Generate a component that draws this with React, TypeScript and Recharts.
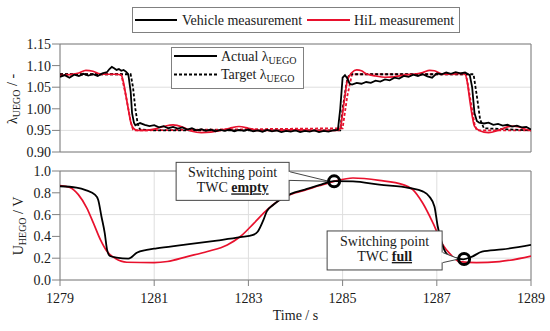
import React from "react";
import {
  LineChart,
  Line,
  XAxis,
  YAxis,
  CartesianGrid,
  ReferenceArea,
  ReferenceDot,
} from "recharts";

// ---------- data ----------
const timeTicks = [1279, 1281, 1283, 1285, 1287, 1289];
const lambdaTicks = [0.9, 0.95, 1.0, 1.05, 1.1, 1.15];
const voltTicks = [0, 0.2, 0.4, 0.6, 0.8, 1.0];

// Vehicle measurement, actual lambda (UEGO)
const vehicleLambdaActual: [number, number][] = [
  [1279.0, 1.074], [1279.1, 1.078], [1279.2, 1.072], [1279.3, 1.079], [1279.4, 1.076],
  [1279.5, 1.081], [1279.6, 1.077], [1279.7, 1.08], [1279.8, 1.076], [1279.9, 1.082],
  [1280.0, 1.085], [1280.05, 1.092], [1280.1, 1.097], [1280.15, 1.094], [1280.2, 1.09],
  [1280.25, 1.092], [1280.3, 1.088], [1280.35, 1.09], [1280.4, 1.086], [1280.45, 1.08],
  [1280.5, 1.04], [1280.53, 0.99], [1280.57, 0.968], [1280.6, 0.962], [1280.7, 0.967],
  [1280.8, 0.963], [1280.9, 0.96], [1281.0, 0.962], [1281.1, 0.957], [1281.2, 0.96],
  [1281.3, 0.955], [1281.4, 0.958], [1281.5, 0.954], [1281.6, 0.957], [1281.7, 0.952],
  [1281.8, 0.955], [1281.9, 0.95], [1282.0, 0.953], [1282.1, 0.949], [1282.2, 0.952],
  [1282.3, 0.948], [1282.4, 0.951], [1282.5, 0.949], [1282.6, 0.952], [1282.7, 0.948],
  [1282.8, 0.951], [1282.9, 0.949], [1283.0, 0.952], [1283.1, 0.948], [1283.2, 0.95],
  [1283.3, 0.947], [1283.4, 0.951], [1283.5, 0.948], [1283.6, 0.95], [1283.7, 0.946],
  [1283.8, 0.949], [1283.9, 0.947], [1284.0, 0.95], [1284.1, 0.946], [1284.2, 0.949],
  [1284.3, 0.947], [1284.4, 0.95], [1284.5, 0.946], [1284.6, 0.949], [1284.7, 0.947],
  [1284.8, 0.95], [1284.9, 0.951], [1284.95, 1.0], [1285.0, 1.072], [1285.05, 1.078],
  [1285.1, 1.07], [1285.15, 1.058], [1285.2, 1.056], [1285.3, 1.06], [1285.4, 1.058],
  [1285.5, 1.062], [1285.6, 1.06], [1285.7, 1.065], [1285.8, 1.063], [1285.9, 1.068],
  [1286.0, 1.066], [1286.1, 1.072], [1286.2, 1.07], [1286.3, 1.076], [1286.4, 1.074],
  [1286.5, 1.079], [1286.6, 1.076], [1286.7, 1.08], [1286.8, 1.075], [1286.9, 1.072],
  [1287.0, 1.082], [1287.1, 1.08], [1287.2, 1.084], [1287.3, 1.081], [1287.4, 1.085],
  [1287.5, 1.082], [1287.6, 1.084], [1287.7, 1.078], [1287.75, 1.05], [1287.8, 0.99],
  [1287.85, 0.972], [1287.9, 0.968], [1288.0, 0.966], [1288.1, 0.968], [1288.2, 0.963],
  [1288.3, 0.965], [1288.4, 0.961], [1288.5, 0.963], [1288.6, 0.959], [1288.7, 0.961],
  [1288.8, 0.957], [1288.9, 0.958], [1289.0, 0.952],
];

// Vehicle measurement, target lambda
const vehicleLambdaTarget: [number, number][] = [
  [1279.0, 1.08], [1280.5, 1.08], [1280.55, 1.05], [1280.6, 1.0], [1280.65, 0.965],
  [1280.7, 0.952], [1281.0, 0.95], [1284.95, 0.95], [1285.0, 1.0], [1285.1, 1.07],
  [1285.15, 1.08], [1287.78, 1.08], [1287.85, 1.03], [1287.92, 0.975], [1288.0, 0.955],
  [1289.0, 0.95],
];

// HiL measurement, actual lambda
const hilLambdaActual: [number, number][] = [
  [1279.0, 1.077], [1279.2, 1.079], [1279.4, 1.083], [1279.55, 1.089], [1279.7, 1.087],
  [1279.85, 1.081], [1280.0, 1.08], [1280.2, 1.08], [1280.3, 1.078], [1280.35, 1.06],
  [1280.4, 1.03], [1280.45, 1.0], [1280.5, 0.97], [1280.55, 0.956], [1280.65, 0.95],
  [1280.8, 0.95], [1281.0, 0.953], [1281.2, 0.959], [1281.4, 0.963], [1281.6, 0.958],
  [1281.8, 0.948], [1282.0, 0.945], [1282.2, 0.946], [1282.4, 0.95], [1282.6, 0.955],
  [1282.8, 0.959], [1283.0, 0.955], [1283.2, 0.95], [1283.5, 0.95], [1284.0, 0.951],
  [1284.5, 0.95], [1284.9, 0.95], [1284.95, 0.955], [1285.0, 0.99], [1285.05, 1.03],
  [1285.1, 1.065], [1285.2, 1.084], [1285.3, 1.09], [1285.4, 1.088], [1285.5, 1.081],
  [1285.7, 1.076], [1285.9, 1.073], [1286.1, 1.074], [1286.3, 1.078], [1286.5, 1.08],
  [1286.7, 1.084], [1286.85, 1.089], [1286.95, 1.088], [1287.1, 1.081], [1287.3, 1.08],
  [1287.5, 1.082], [1287.6, 1.08], [1287.65, 1.06], [1287.7, 1.02], [1287.75, 0.985],
  [1287.8, 0.96], [1287.9, 0.95], [1288.0, 0.946], [1288.1, 0.945], [1288.3, 0.95],
  [1288.5, 0.958], [1288.6, 0.96], [1288.75, 0.958], [1288.9, 0.952], [1289.0, 0.95],
];

// HiL measurement, target lambda
const hilLambdaTarget: [number, number][] = [
  [1279.0, 1.08], [1280.3, 1.08], [1280.4, 1.03], [1280.5, 0.97], [1280.55, 0.952],
  [1280.6, 0.95], [1285.0, 0.955], [1285.1, 1.03], [1285.2, 1.08], [1287.62, 1.08],
  [1287.7, 1.03], [1287.8, 0.965], [1287.85, 0.95], [1289.0, 0.95],
];

// Vehicle measurement, HEGO voltage
const vehicleHego: [number, number][] = [
  [1279.0, 0.86], [1279.35, 0.848], [1279.56, 0.822], [1279.74, 0.783], [1279.81, 0.737],
  [1279.88, 0.583], [1279.95, 0.43], [1280.0, 0.276], [1280.06, 0.22], [1280.2, 0.205],
  [1280.45, 0.196], [1280.52, 0.21], [1280.63, 0.25], [1280.84, 0.276], [1281.05, 0.291],
  [1281.62, 0.322], [1282.33, 0.362], [1282.83, 0.393], [1283.1, 0.414], [1283.2, 0.445],
  [1283.32, 0.552], [1283.39, 0.629], [1283.53, 0.69], [1283.67, 0.737], [1283.9, 0.79],
  [1284.2, 0.83], [1284.5, 0.87], [1284.82, 0.908], [1285.22, 0.905], [1285.78, 0.875],
  [1286.42, 0.844], [1286.7, 0.813], [1286.84, 0.767], [1286.95, 0.675], [1287.02, 0.491],
  [1287.09, 0.368], [1287.16, 0.276], [1287.23, 0.23], [1287.4, 0.2], [1287.56, 0.19],
  [1287.75, 0.215], [1287.96, 0.26], [1288.39, 0.28], [1289.0, 0.322],
];

// HiL measurement, HEGO voltage
const hilHego: [number, number][] = [
  [1279.0, 0.866], [1279.21, 0.848], [1279.39, 0.783], [1279.57, 0.66], [1279.71, 0.522],
  [1279.86, 0.368], [1280.0, 0.261], [1280.17, 0.2], [1280.42, 0.163], [1281.0, 0.16],
  [1281.28, 0.17], [1281.7, 0.215], [1282.13, 0.261], [1282.55, 0.322], [1282.83, 0.399],
  [1283.12, 0.522], [1283.4, 0.645], [1283.67, 0.737], [1284.0, 0.8], [1284.2, 0.825],
  [1284.5, 0.865], [1284.82, 0.905], [1285.22, 0.936], [1285.78, 0.914], [1286.28, 0.875],
  [1286.49, 0.829], [1286.7, 0.706], [1286.92, 0.522], [1287.13, 0.322], [1287.3, 0.23],
  [1287.48, 0.169], [1287.84, 0.16], [1288.33, 0.169], [1289.0, 0.22],
];

// Switching points
const switchEmpty = { t: 1284.82, v: 0.905 };
const switchFull = { t: 1287.58, v: 0.193 };

// ---------- styling ----------
const FONT = "'Liberation Serif', 'DejaVu Serif', serif";
const RED = "#e8112d";
const BLACK = "#000000";
const GRID = "#dedede";
const FRAME = "#808080";
const TXT = "#1a1a1a";

const toRows = (arr: [number, number][]) => arr.map(([t, v]) => ({ t, v }));

const tickStyle = { fontSize: 14, fontFamily: FONT, fill: TXT, style: { fontFamily: FONT } };

function Callout(props: any) {
  const { cx, cy, kind } = props;
  if (cx == null || cy == null) return null;
  const isEmpty = kind === "empty";
  const bx0 = isEmpty ? cx - 158 : cx - 137;
  const bx1 = isEmpty ? cx - 45 : cx - 22;
  const by0 = isEmpty ? cy - 19 : cy - 28;
  const by1 = isEmpty ? cy + 19 : cy + 11;
  const w0 = isEmpty ? cy - 10 : cy - 7;
  const w1 = isEmpty ? cy - 1 : cy + 4;
  const mx = (bx0 + bx1) / 2;
  return (
    <g style={{ fontFamily: FONT }}>
      <polygon
        points={`${bx1 - 1},${w0} ${cx - 5},${cy} ${bx1 - 1},${w1}`}
        fill="#fff"
        stroke="#444"
        strokeWidth={1}
      />
      <rect x={bx0} y={by0} width={bx1 - bx0} height={by1 - by0} fill="#fff" stroke="#444" strokeWidth={1} />
      <line x1={bx1} y1={w0 + 0.5} x2={bx1} y2={w1 - 0.5} stroke="#fff" strokeWidth={2} />
      <text textAnchor="middle" fontSize={14} fill={TXT} style={{ fontFamily: FONT }}>
        <tspan x={mx} y={by0 + 15}>Switching point</tspan>
        <tspan x={mx} y={by0 + 30}>
          TWC <tspan fontWeight="bold" textDecoration="underline">{isEmpty ? "empty" : "full"}</tspan>
        </tspan>
      </text>
      <circle cx={cx} cy={cy} r={5.5} fill="none" stroke="#000" strokeWidth={3} />
    </g>
  );
}

export default function App() {
  return (
    <div
      style={{
        position: "absolute",
        left: 0,
        top: 0,
        width: 550,
        height: 331,
        background: "#fff",
        fontFamily: FONT,
        overflow: "hidden",
      }}
    >
      {/* Top panel: lambda */}
      <div style={{ position: "absolute", left: 0, top: 0 }}>
        <LineChart width={550} height={160} margin={{ top: 44, right: 19, bottom: 8, left: 0 }}>
          <CartesianGrid stroke={GRID} />
          <XAxis
            dataKey="t"
            type="number"
            domain={[1279, 1289]}
            ticks={timeTicks}
            allowDataOverflow
            height={0}
            tick={false}
            tickLine={false}
            axisLine={false}
          />
          <YAxis
            type="number"
            domain={[0.9, 1.15]}
            ticks={lambdaTicks}
            allowDataOverflow
            width={60}
            tickSize={8}
            tickMargin={1}
            axisLine={false}
            tickLine={{ stroke: FRAME }}
            tick={tickStyle}
            tickFormatter={(v: number) => v.toFixed(2)}
          />
          <ReferenceArea x1={1279} x2={1289} y1={0.9} y2={1.15} fill="none" stroke={FRAME} strokeWidth={1} />
          <Line data={toRows(hilLambdaTarget)} dataKey="v" stroke={RED} strokeWidth={1.8} strokeDasharray="3 2" dot={false} isAnimationActive={false} type="linear" />
          <Line data={toRows(vehicleLambdaTarget)} dataKey="v" stroke={BLACK} strokeWidth={1.8} strokeDasharray="3 2" dot={false} isAnimationActive={false} type="linear" />
          <Line data={toRows(hilLambdaActual)} dataKey="v" stroke={RED} strokeWidth={1.7} dot={false} isAnimationActive={false} type="monotone" />
          <Line data={toRows(vehicleLambdaActual)} dataKey="v" stroke={BLACK} strokeWidth={1.8} dot={false} isAnimationActive={false} type="linear" />
        </LineChart>
      </div>

      {/* Bottom panel: HEGO voltage */}
      <div style={{ position: "absolute", left: 0, top: 160 }}>
        <LineChart width={550} height={171} margin={{ top: 11, right: 19, bottom: 21, left: 0 }}>
          <CartesianGrid stroke={GRID} />
          <XAxis
            dataKey="t"
            type="number"
            domain={[1279, 1289]}
            ticks={timeTicks}
            allowDataOverflow
            height={30}
            tickSize={6}
            tickMargin={7}
            axisLine={false}
            tickLine={{ stroke: FRAME }}
            tick={tickStyle}
          />
          <YAxis
            type="number"
            domain={[0, 1]}
            ticks={voltTicks}
            allowDataOverflow
            width={60}
            tickSize={8}
            tickMargin={1}
            axisLine={false}
            tickLine={{ stroke: FRAME }}
            tick={tickStyle}
            tickFormatter={(v: number) => v.toFixed(1)}
          />
          <ReferenceArea x1={1279} x2={1289} y1={0} y2={1} fill="none" stroke={FRAME} strokeWidth={1} />
          <Line data={toRows(hilHego)} dataKey="v" stroke={RED} strokeWidth={1.7} dot={false} isAnimationActive={false} type="monotone" />
          <Line data={toRows(vehicleHego)} dataKey="v" stroke={BLACK} strokeWidth={1.8} dot={false} isAnimationActive={false} type="monotone" />
          <ReferenceDot x={switchEmpty.t} y={switchEmpty.v} r={5} shape={(p: any) => <Callout {...p} kind="empty" />} />
          <ReferenceDot x={switchFull.t} y={switchFull.v} r={5} shape={(p: any) => <Callout {...p} kind="full" />} />
        </LineChart>
      </div>

      {/* Overlay: legends and axis titles */}
      <svg
        width={550}
        height={331}
        style={{ position: "absolute", left: 0, top: 0, pointerEvents: "none", fontFamily: FONT }}
      >
        {/* main legend */}
        <rect x={132.5} y={7.5} width={327} height={25} fill="#fff" stroke={FRAME} />
        <line x1={135} y1={20} x2={177} y2={20} stroke={BLACK} strokeWidth={1.8} />
        <text x={182} y={25} fontSize={14} fill={TXT}>Vehicle measurement</text>
        <line x1={307} y1={20} x2={350} y2={20} stroke={RED} strokeWidth={1.8} />
        <text x={354} y={25} fontSize={14} fill={TXT}>HiL measurement</text>

        {/* inner legend */}
        <rect x={171.5} y={47.5} width={132} height={41} fill="#fff" stroke={FRAME} />
        <line x1={174} y1={56} x2={217} y2={56} stroke={BLACK} strokeWidth={1.8} />
        <text x={221} y={61} fontSize={14} fill={TXT}>
          Actual λ<tspan fontSize={10} dy={3}>UEGO</tspan>
        </text>
        <line x1={174} y1={74.5} x2={217} y2={74.5} stroke={BLACK} strokeWidth={1.8} strokeDasharray="3 2" />
        <text x={221} y={79} fontSize={14} fill={TXT}>
          Target λ<tspan fontSize={10} dy={3}>UEGO</tspan>
        </text>

        {/* y titles */}
        <text transform="translate(17,99) rotate(-90)" textAnchor="middle" fontSize={14} fill={TXT}>
          λ<tspan fontSize={10} dy={3}>UEGO</tspan>
          <tspan dy={-3}> / -</tspan>
        </text>
        <text transform="translate(23,226) rotate(-90)" textAnchor="middle" fontSize={14} fill={TXT}>
          U<tspan fontSize={10} dy={3}>HEGO</tspan>
          <tspan dy={-3}> / V</tspan>
        </text>

        {/* x title */}
        <text x={295.5} y={320} textAnchor="middle" fontSize={14} fill={TXT}>Time / s</text>
      </svg>
    </div>
  );
}
